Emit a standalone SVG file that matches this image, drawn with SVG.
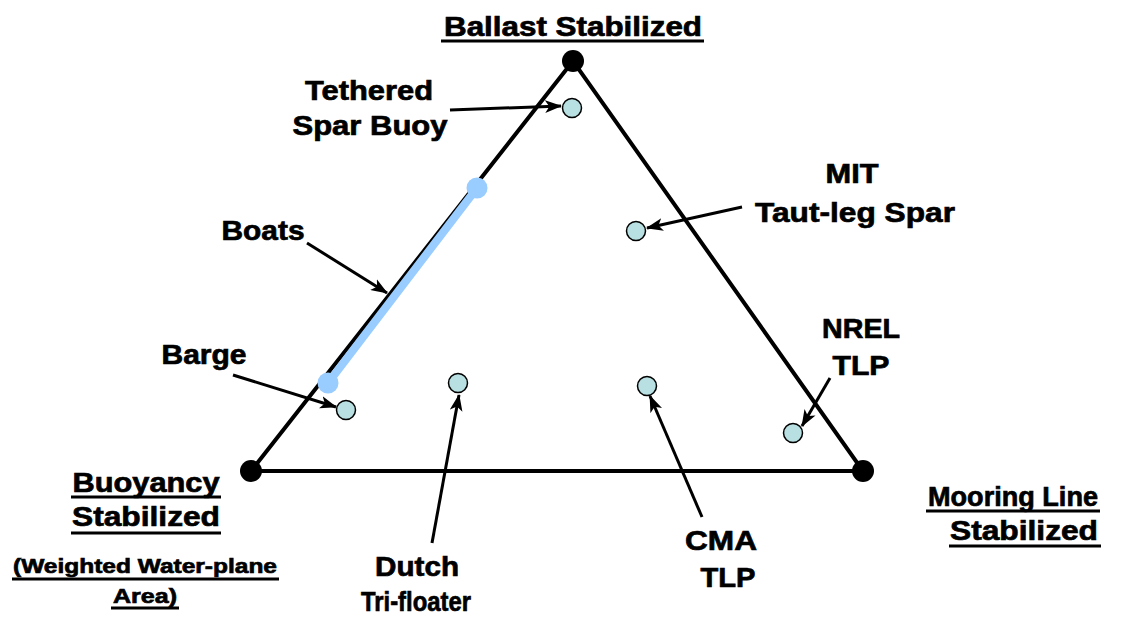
<svg xmlns="http://www.w3.org/2000/svg" width="1129" height="619" viewBox="0 0 1129 619">
<style>
  text { font-family: "Liberation Sans", Arial, sans-serif; font-weight: bold; fill: #000; stroke: #000; stroke-width: 0.7; }
  .lbl { font-size: 28px; text-anchor: middle; }
  .sm { font-size: 21px; text-anchor: middle; }
  .ul { stroke: #000; stroke-width: 3; }
  .edge { stroke: #000; stroke-width: 4; fill: none; stroke-linecap: round; }
  .vtx { fill: #000; }
  .pt { fill: #b8e0e2; stroke: #000; stroke-width: 1.5; }
  .arr { stroke: #000; stroke-width: 3; fill: none; marker-end: url(#ah); }
</style>
<defs>
  <marker id="ah" viewBox="0 0 16 12" refX="15" refY="6" markerWidth="17" markerHeight="13" markerUnits="userSpaceOnUse" orient="auto">
    <path d="M0,0 L16,6 L0,12 L4,6 Z" fill="#000"/>
  </marker>
</defs>
<rect width="1129" height="619" fill="#fff"/>

<g id="triangle">
  <polygon class="edge" points="573,61 251,471 863,471"/>
  <line x1="477" y1="188" x2="328" y2="383" stroke="#99ccff" stroke-width="8" stroke-linecap="round"/>
  <circle cx="477" cy="188" r="10.5" fill="#99ccff"/>
  <circle cx="328" cy="383" r="10.5" fill="#99ccff"/>
</g>

<g id="vertex-ballast"><circle class="vtx" cx="573" cy="61" r="11"/></g>
<g id="vertex-buoyancy"><circle class="vtx" cx="251" cy="471" r="11"/></g>
<g id="vertex-mooring"><circle class="vtx" cx="863" cy="471" r="11"/></g>

<g id="connectors">
  <line class="arr" x1="450" y1="110" x2="561" y2="106"/>
  <line class="arr" x1="742" y1="207" x2="647" y2="228"/>
  <line class="arr" x1="307" y1="243" x2="387" y2="293"/>
  <line class="arr" x1="233" y1="375" x2="336" y2="407"/>
  <line class="arr" x1="432" y1="543" x2="459" y2="395"/>
  <line class="arr" x1="702" y1="517" x2="650" y2="396"/>
  <line class="arr" x1="830" y1="378" x2="802" y2="426"/>
</g>

<g id="node-tethered">
  <circle class="pt" cx="572" cy="108" r="9.5"/>
  <text class="lbl" x="369" y="100" textLength="128" lengthAdjust="spacingAndGlyphs">Tethered</text>
  <text class="lbl" x="370" y="135" textLength="155" lengthAdjust="spacingAndGlyphs">Spar Buoy</text>
</g>
<g id="node-mit">
  <circle class="pt" cx="636" cy="231" r="9.5"/>
  <text class="lbl" x="852" y="183" textLength="53" lengthAdjust="spacingAndGlyphs">MIT</text>
  <text class="lbl" x="855" y="222" textLength="200" lengthAdjust="spacingAndGlyphs">Taut-leg Spar</text>
</g>
<g id="node-boats">
  <text class="lbl" x="263" y="240" textLength="83" lengthAdjust="spacingAndGlyphs">Boats</text>
</g>
<g id="node-barge">
  <circle class="pt" cx="346" cy="410" r="9.5"/>
  <text class="lbl" x="204" y="364" textLength="85" lengthAdjust="spacingAndGlyphs">Barge</text>
</g>
<g id="node-dutch">
  <circle class="pt" cx="458" cy="383" r="9.5"/>
  <text class="lbl" x="417" y="576" textLength="84" lengthAdjust="spacingAndGlyphs">Dutch</text>
  <text class="lbl" x="416" y="611" textLength="110" lengthAdjust="spacingAndGlyphs">Tri-floater</text>
</g>
<g id="node-cma">
  <circle class="pt" cx="647" cy="386" r="9.5"/>
  <text class="lbl" x="721" y="550" textLength="72" lengthAdjust="spacingAndGlyphs">CMA</text>
  <text class="lbl" x="728" y="587" textLength="55" lengthAdjust="spacingAndGlyphs">TLP</text>
</g>
<g id="node-nrel">
  <circle class="pt" cx="793" cy="433" r="9.5"/>
  <text class="lbl" x="861" y="338" textLength="78" lengthAdjust="spacingAndGlyphs">NREL</text>
  <text class="lbl" x="861" y="375" textLength="57" lengthAdjust="spacingAndGlyphs">TLP</text>
</g>

<g id="label-ballast">
  <text class="lbl" x="573" y="36" textLength="258" lengthAdjust="spacingAndGlyphs">Ballast Stabilized</text>
  <line class="ul" x1="441" y1="41" x2="704" y2="41"/>
</g>
<g id="label-buoyancy">
  <text class="lbl" x="146" y="492" textLength="147" lengthAdjust="spacingAndGlyphs">Buoyancy</text>
  <line class="ul" x1="71" y1="497" x2="221" y2="497"/>
  <text class="lbl" x="146" y="526" textLength="148" lengthAdjust="spacingAndGlyphs">Stabilized</text>
  <line class="ul" x1="71" y1="533" x2="221" y2="533"/>
  <text class="sm" x="145" y="573" textLength="264" lengthAdjust="spacingAndGlyphs">(Weighted Water-plane</text>
  <line class="ul" x1="12" y1="579" x2="279" y2="579"/>
  <text class="sm" x="145" y="603" textLength="64" lengthAdjust="spacingAndGlyphs">Area)</text>
  <line class="ul" x1="111" y1="608" x2="179" y2="608"/>
</g>
<g id="label-mooring">
  <text class="lbl" x="1013" y="506" textLength="170" lengthAdjust="spacingAndGlyphs">Mooring Line</text>
  <line class="ul" x1="926" y1="511" x2="1100" y2="511"/>
  <text class="lbl" x="1024" y="540" textLength="148" lengthAdjust="spacingAndGlyphs">Stabilized</text>
  <line class="ul" x1="949" y1="546" x2="1101" y2="546"/>
</g>
</svg>
